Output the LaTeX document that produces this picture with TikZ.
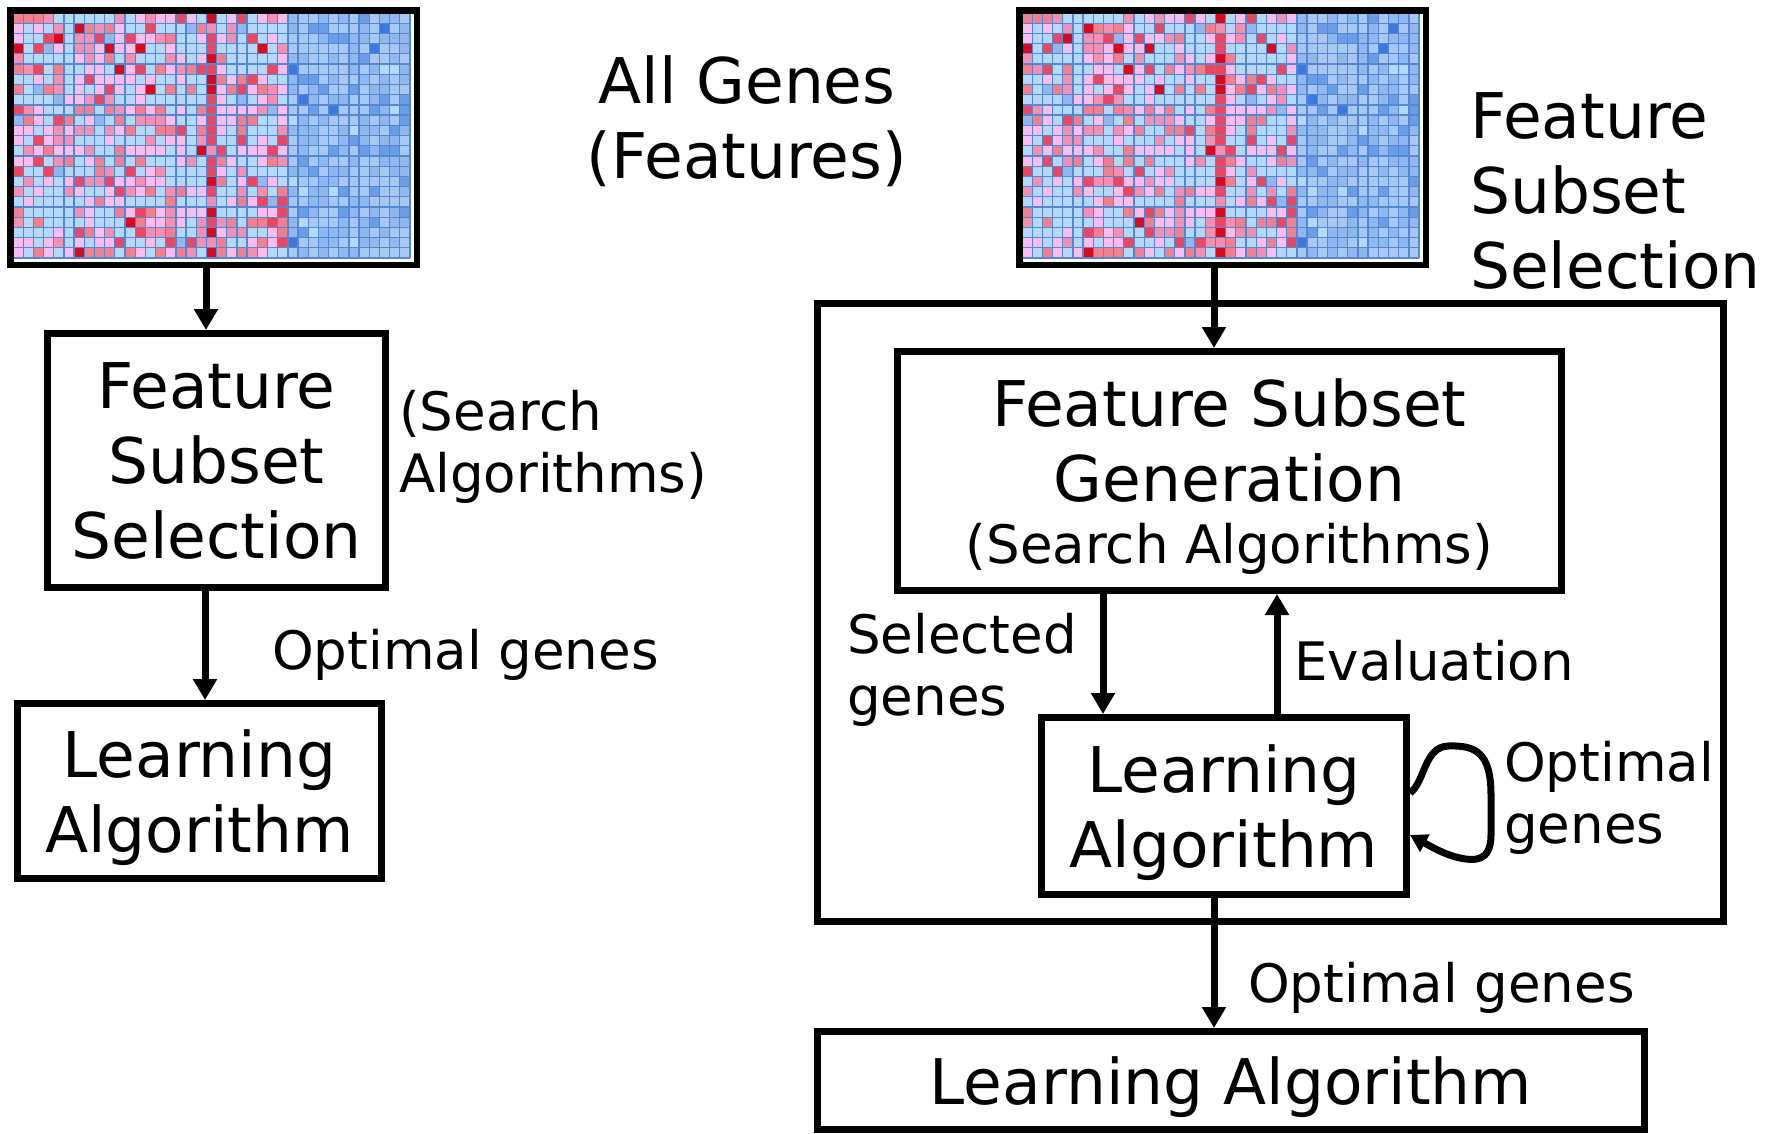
\documentclass[tikz,border=0pt]{standalone}
\usepackage{fontspec}
\setmainfont{DejaVu Sans}
\usetikzlibrary{arrows.meta}

\newcommand\bigtext{\fontsize{63}{75}\selectfont}
\newcommand\smalltext{\fontsize{53}{62}\selectfont}

% heat-map palette
\definecolor{hmlblue}{HTML}{B4D8FA}
\definecolor{hmpblue}{HTML}{A6C8F3}
\definecolor{hmmblue}{HTML}{90B8EE}
\definecolor{hmblue}{HTML}{6A9CE8}
\definecolor{hmdblue}{HTML}{3E76E2}
\definecolor{hmpink}{HTML}{FBBCEE}
\definecolor{hmrose}{HTML}{F290B4}
\definecolor{hmsalmon}{HTML}{F07F90}
\definecolor{hmred}{HTML}{EA4862}
\definecolor{hmdred}{HTML}{D80A1E}
\definecolor{hmgrid}{HTML}{5887D2}

% expression matrix: 39 genes x 24 samples, drawn at horizontal offset #1
\newcommand\genemap[1]{%
  \pgfmathsetseed{4242}%
  \foreach \c in {0,...,38}{%
    \foreach \r in {0,...,23}{%
      \pgfmathtruncatemacro\k{random(1,100)}%
      \ifnum\c=19
        \ifnum\k<55 \def\cc{hmdred}\else\ifnum\k<85 \def\cc{hmred}\else\def\cc{hmrose}\fi\fi
      \else\ifnum\c<27
        \ifnum\k<38 \def\cc{hmlblue}\else\ifnum\k<62 \def\cc{hmpink}\else\ifnum\k<76 \def\cc{hmrose}\else\ifnum\k<89 \def\cc{hmsalmon}\else\ifnum\k<95 \def\cc{hmred}\else\ifnum\k<97 \def\cc{hmdred}\else\def\cc{hmmblue}\fi\fi\fi\fi\fi\fi
      \else
        \ifnum\k<45 \def\cc{hmpblue}\else\ifnum\k<80 \def\cc{hmmblue}\else\ifnum\k<93 \def\cc{hmblue}\else\ifnum\k<96 \def\cc{hmdblue}\else\def\cc{hmlblue}\fi\fi\fi\fi
      \fi\fi
      \fill[fill=\cc] ({#1+13+\c*10.18},{13+\r*10.21}) rectangle ++(10.18,10.21);
    }%
  }%
  \foreach \c in {0,...,39}{\draw[hmgrid, line width=1.3pt] ({#1+13+\c*10.18},13) -- ++(0,245);}%
  \foreach \r in {0,...,24}{\draw[hmgrid, line width=1.3pt] ({#1+13},{13+\r*10.21}) -- ++(397,0);}%
}

\tikzset{
  box/.style={draw, line width=7pt, inner sep=0pt, align=center, font=\bigtext, text depth=0pt},
  matrixframe/.style={draw, line width=6.5pt, inner sep=0pt, minimum width=406.5pt, minimum height=254.5pt},
  flow/.style={line width=7pt, -{Triangle[length=21pt,width=23pt]}},
  lbl/.style={inner sep=0pt, anchor=base west},
}

\begin{document}
\begin{tikzpicture}[x=1pt,y=-1pt]
\fill[white] (0,0) rectangle (1767,1133);
\useasboundingbox (0,0) rectangle (1767,1133);

% gene expression matrices
\genemap{0}
\genemap{1009}
\node[matrixframe] (hmL) at (213.5,137.5) {};
\node[matrixframe] (hmR) at (1222.5,137.5) {};

% filter approach
\node[box, minimum width=338pt, minimum height=254pt] (fssL) at (216.5,460.5) {Feature\\Subset\\Selection};
\node[box, minimum width=364pt, minimum height=175pt] (laL) at (199.5,791) {Learning\\Algorithm};

% wrapper approach
\node[draw, line width=7pt, inner sep=0pt, minimum width=906pt, minimum height=618pt] (wrap) at (1270.5,612.5) {};
\node[box, minimum width=664pt, minimum height=239pt] (fsg) at (1229.5,471)
  {Feature Subset\\Generation\\[-13pt]{\smalltext(Search Algorithms)}};
\node[box, minimum width=365pt, minimum height=177pt] (laR) at (1224,806) {Learning\\Algorithm};
\node[box, minimum width=827pt, minimum height=98pt] (laB) at (1231,1080.5) {Learning Algorithm};

% labels (a multi-line label sits on the baseline of its last line)
\node[lbl, anchor=base, align=center, font=\bigtext] (allg) at (747,178) {All Genes\\(Features)};
\node[lbl, align=left, font=\bigtext] (fssHead) at (1470,288) {Feature\\Subset\\Selection};
\node[lbl, align=left, font=\smalltext] (searchL) at (399,492) {(Search\\Algorithms)};
\node[lbl, font=\smalltext] (optL) at (272,669) {Optimal genes};
\node[lbl, align=left, font=\smalltext] (selg) at (847,715) {Selected\\genes};
\node[lbl, font=\smalltext] (evalu) at (1294,680) {Evaluation};
\node[lbl, align=left, font=\smalltext] (optR) at (1504,843) {Optimal\\genes};
\node[lbl, font=\smalltext] (optB) at (1248,1002) {Optimal genes};

% connectors
\draw[flow] ([xshift=-7.5pt]hmL.south) -- ([xshift=-10.5pt]fssL.north);
\draw[flow] ([xshift=-11.5pt]fssL.south) -- ([xshift=5.5pt]laL.north);
\draw[flow] ([xshift=-8.5pt]hmR.south) -- ([xshift=-15.5pt]fsg.north);
\draw[flow] ([xshift=-126.5pt]fsg.south) -- ([xshift=-121pt]laR.north);
\draw[flow] ([xshift=53pt]laR.north) -- ([xshift=47.5pt]fsg.south);
\draw[flow] ([xshift=-10pt]laR.south) -- ([xshift=-17pt]laB.north);

% self loop on the inner learning algorithm
\coordinate (loopA) at ([yshift=13pt]laR.east);
\coordinate (loopB) at ([yshift=-29pt]laR.east);
\draw[line width=7pt, -{Triangle[length=17pt,width=19pt]}]
  (loopA) .. controls (1425,782) and (1424,747) .. (1448,746)
  .. controls (1475,745) and (1491,752) .. (1491,795)
  -- (1491,835)
  .. controls (1491,862) and (1474,861) .. (1460,858)
  .. controls (1445,855) and (1430,846) .. (loopB);
\end{tikzpicture}
\end{document}
